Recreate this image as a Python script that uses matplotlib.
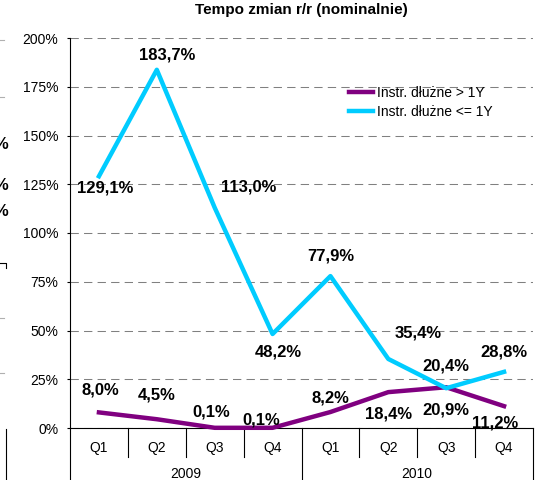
import numpy as np
import matplotlib
matplotlib.use('Agg')
import matplotlib.pyplot as plt

plt.rcParams['font.family'] = ['Liberation Sans', 'DejaVu Sans']

# Data
quarters = ['Q1', 'Q2', 'Q3', 'Q4', 'Q1', 'Q2', 'Q3', 'Q4']
years = ['2009', '2010']
long_debt = [8.0, 4.5, 0.1, 0.1, 8.2, 18.4, 20.9, 11.2]          # Instr. dłużne > 1Y
short_debt = [129.1, 183.7, 113.0, 48.2, 77.9, 35.4, 20.4, 28.8]  # Instr. dłużne <= 1Y
y_ticks = [0, 25, 50, 75, 100, 125, 150, 175, 200]

# Label offsets (pixels, y pointing down as in the picture)
long_offsets = [(1, -22), (0, -24), (-3, -16), (-11, -8), (0, -14), (0, 22), (0, 23), (-9, 17)]
short_offsets = [(6, 12), (10, -15), (34, -21), (6, 18), (0, -20), (30, -26), (0, -22), (0, -20)]

c_long = '#800080'
c_short = '#00ccff'

fig = plt.figure(figsize=(5.48, 4.80), dpi=100)
ax = fig.add_axes([70 / 548, 52 / 480, 463 / 548, 390 / 480])

x = np.arange(len(quarters))
ax.plot(x, long_debt, color=c_long, lw=3.2, clip_on=False, zorder=3, label='Instr. dłużne > 1Y')
ax.plot(x, short_debt, color=c_short, lw=3.2, clip_on=False, zorder=4, label='Instr. dłużne <= 1Y')


def fmt(v):
    return '{:.1f}%'.format(v).replace('.', ',')


for vals, offs in [(long_debt, long_offsets), (short_debt, short_offsets)]:
    for xi, v, (dx, dy) in zip(x, vals, offs):
        ax.annotate(fmt(v), (xi, v), xytext=(dx, -dy), textcoords='offset pixels',
                    ha='center', va='center', fontsize=12, fontweight='bold', zorder=5,
                    annotation_clip=False)

ax.set_xlim(-0.5, len(quarters) - 0.5)
ax.set_ylim(0, 200)
ax.set_yticks(y_ticks, ['{}%'.format(t) for t in y_ticks])
ax.tick_params(axis='y', direction='out', length=2.5, width=0.8, pad=6, labelsize=10)
ax.tick_params(axis='x', length=0, labelbottom=False)
ax.yaxis.grid(True, color='#808080', lw=0.75, linestyle=(0, (8, 5)))
ax.set_axisbelow(True)

for s in ['top', 'right']:
    ax.spines[s].set_visible(False)
ax.spines['left'].set_linewidth(0.8)
ax.spines['bottom'].set_linewidth(0.8)

# Category axis: quarters and years
trans = ax.get_xaxis_transform()
n_per_year = len(quarters) // len(years)
bounds = np.arange(len(quarters) + 1) - 0.5
for b in bounds:
    long_sep = (int(b + 0.5) % n_per_year) == 0
    ax.plot([b, b], [0, -52 / 390 if long_sep else -29 / 390], color='k', lw=0.8,
            transform=trans, clip_on=False)
for xi, q in zip(x, quarters):
    ax.text(xi, -20 / 390, q, transform=trans, ha='center', va='center', fontsize=10)
for i, yr in enumerate(years):
    ax.text(np.mean(x[i * n_per_year:(i + 1) * n_per_year]), -46 / 390, yr,
            transform=trans, ha='center', va='center', fontsize=10)

ax.set_title('Tempo zmian r/r (nominalnie)', fontsize=11, fontweight='bold', pad=17)

ax.legend(loc='upper left', bbox_to_anchor=(279 / 463, 342 / 390), frameon=False,
          fontsize=10, handlelength=1.7, handletextpad=0.3, labelspacing=0.35,
          borderaxespad=0, borderpad=0)

# Remnants of neighbouring chart at the left edge
for yy in [145, 185, 212]:
    fig.text(8 / 548, 1 - yy / 480, '%', ha='right', va='center', fontsize=12, fontweight='bold')
for yy in [40, 97, 318, 373]:
    fig.add_artist(plt.Line2D([0, 4 / 548], [1 - yy / 480] * 2, color='#b0b0b0', lw=0.8))
fig.add_artist(plt.Line2D([0, 6 / 548, 6 / 548], [1 - 263 / 480, 1 - 263 / 480, 1 - 268 / 480],
                          color='k', lw=0.8))
fig.add_artist(plt.Line2D([6 / 548, 6 / 548], [1 - 429 / 480, 0], color='k', lw=0.8))

fig.savefig('out.png', dpi=100)
